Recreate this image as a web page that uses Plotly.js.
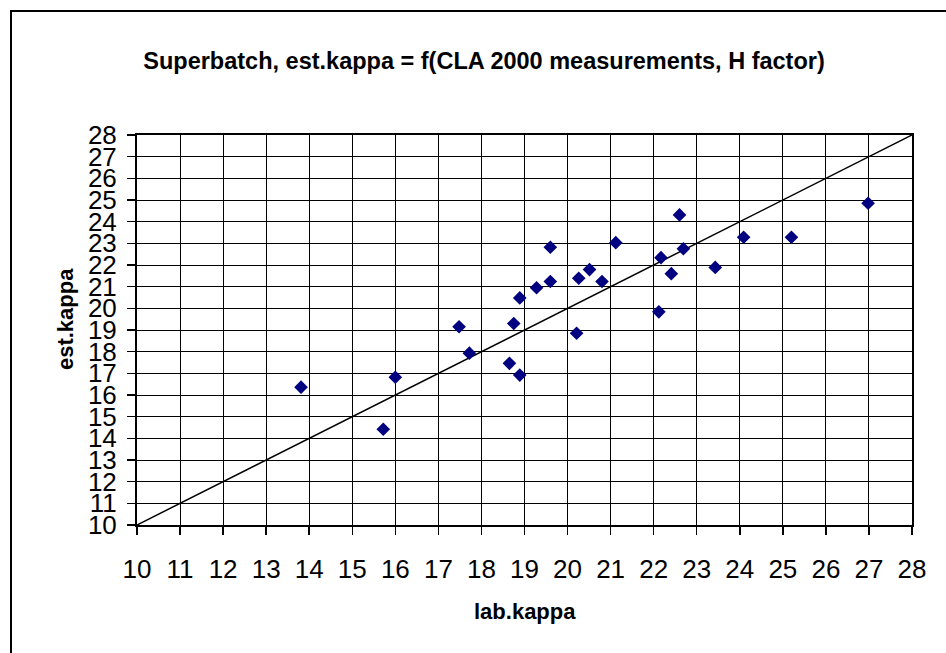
<!DOCTYPE html>
<html>
<head>
<meta charset="utf-8">
<script src="https://cdn.plot.ly/plotly-3.0.1.min.js"></script>
<style>
  html, body { margin: 0; padding: 0; background: #fff; overflow: hidden; }
  #chart { position: absolute; left: 0; top: 0; width: 946px; height: 653px; }
  #frame { position: absolute; left: 10px; top: 10px; width: 1000px; height: 700px;
           border-left: 2px solid #000; border-top: 2px solid #000; pointer-events: none; }
</style>
</head>
<body>
<div id="chart"></div>
<div id="frame"></div>
<script>
const labKappa = [13.81, 15.72, 16.00, 17.48, 17.72, 18.65, 18.75, 18.89, 18.89, 19.28,
                  19.60, 19.60, 20.21, 20.26, 20.51, 20.80, 21.12, 22.12, 22.17, 22.41,
                  22.60, 22.69, 23.43, 24.09, 25.20, 26.98];
const estKappa = [16.36, 14.42, 16.82, 19.15, 17.93, 17.46, 19.30, 20.48, 16.92, 20.95,
                  21.24, 22.82, 18.85, 21.39, 21.79, 21.24, 23.03, 19.84, 22.34, 21.60,
                  24.31, 22.75, 21.89, 23.28, 23.28, 24.85];
const refLineX = [10, 28];
const refLineY = [10, 28];
const tickVals = [10,11,12,13,14,15,16,17,18,19,20,21,22,23,24,25,26,27,28];
const titleText = 'Superbatch, est.kappa = f(CLA 2000 measurements, H factor)';
const xTitle = 'lab.kappa';
const yTitle = 'est.kappa';

const FONT = 'Liberation Sans, Arial, sans-serif';

const traces = [
  {
    x: refLineX, y: refLineY, type: 'scatter', mode: 'lines',
    line: {color: '#000', width: 1.5}, hoverinfo: 'skip'
  },
  {
    x: labKappa, y: estKappa, type: 'scatter', mode: 'markers',
    marker: {symbol: 'diamond', size: 10.5, color: '#000080', line: {width: 0}},
    cliponaxis: false
  }
];

const axisCommon = {
  range: [10, 28],
  tickmode: 'array',
  tickvals: tickVals,
  ticktext: tickVals.map(String),
  showgrid: true, gridcolor: '#000', gridwidth: 1,
  zeroline: false,
  showline: true, linecolor: '#000', linewidth: 2, mirror: true,
  ticks: 'outside', ticklen: 8, tickwidth: 1.5, tickcolor: '#000',
  tickfont: {family: FONT, size: 26, color: '#000'}
};

const layout = {
  width: 946, height: 653,
  paper_bgcolor: '#fff', plot_bgcolor: '#fff',
  showlegend: false,
  margin: {l: 137, r: 34, t: 135, b: 128},
  title: {
    text: '<b>' + titleText + '</b>',
    font: {family: FONT, size: 23.5, color: '#000'},
    x: 484 / 946, xref: 'container', xanchor: 'center',
    y: 1 - 61 / 653, yref: 'container', yanchor: 'middle'
  },
  xaxis: Object.assign({}, axisCommon, {ticklabelstandoff: 12}),
  yaxis: Object.assign({}, axisCommon, {ticklabelstandoff: 5}),
  annotations: [
    {
      text: '<b>' + xTitle + '</b>', xref: 'paper', yref: 'paper',
      x: 0.5, y: -0.223, xanchor: 'center', yanchor: 'middle', showarrow: false,
      font: {family: FONT, size: 22, color: '#000'}
    },
    {
      text: '<b>' + yTitle + '</b>', xref: 'paper', yref: 'paper',
      x: -0.0929, y: 0.528, xanchor: 'center', yanchor: 'middle', showarrow: false,
      textangle: -90,
      font: {family: FONT, size: 22, color: '#000'}
    }
  ]
};

Plotly.newPlot('chart', traces, layout, {staticPlot: true, displayModeBar: false});
</script>
</body>
</html>
